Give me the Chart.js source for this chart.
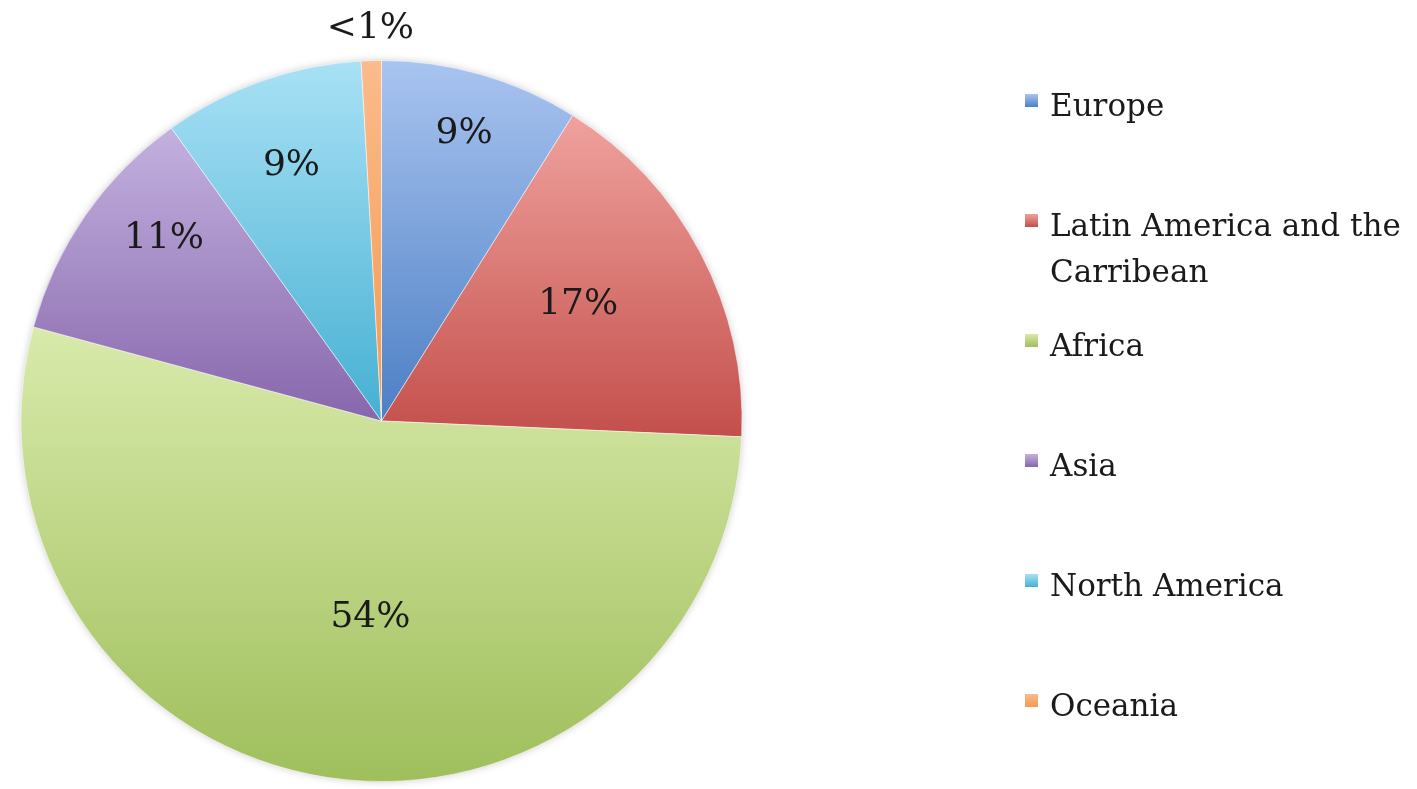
<!DOCTYPE html>
<html>
<head>
<meta charset="utf-8">
<script src="https://cdn.jsdelivr.net/npm/chart.js"></script>
<style>
  body { margin: 0; background: #fff; }
  #wrap { position: relative; width: 1417px; height: 789px; }
  #legend { position: absolute; left: 1025px; top: 0; font-family: "DejaVu Serif", serif; font-size: 31px; color: #1a1a1a; }
  .item { position: absolute; left: 0; width: 392px; line-height: 46px; white-space: nowrap; }
  .item .box { position: absolute; left: 0; top: 12px; width: 13px; height: 13px; }
  .item .txt { position: absolute; left: 25px; top: 0; }
</style>
</head>
<body>
<div id="wrap">
  <canvas id="pie" width="1417" height="789"></canvas>
  <div id="legend"></div>
</div>
<script>
// data
const regions = ["Europe", "Latin America and the Carribean", "Africa", "Asia", "North America", "Oceania"];
const legendLines = [["Europe"], ["Latin America and the", "Carribean"], ["Africa"], ["Asia"], ["North America"], ["Oceania"]];
const shares = [8.9, 16.8, 53.5, 10.9, 9.0, 0.9];

// colours, light (top of slice) -> dark (bottom of slice)
const topColors = ["#a9c4f0", "#f0a29e", "#d9eaab", "#c3b1df", "#a9e1f5", "#fbbb8c"];
const bottomColors = ["#4c7fc4", "#c34f4b", "#9fbf5c", "#8767ac", "#45b0d2", "#f5994c"];

// where each % label sits: fraction of the radius, and a nudge off the mid angle (deg)
const labelRadius = [0.83, 0.634, 0.547, 0.788, 0.75, 1.09];
const labelNudge = [0, -2.9, -5.6, 5.3, 0, 0];

function sliceGradient(ctx) {
  const chart = ctx.chart;
  const area = chart.chartArea;
  const i = ctx.dataIndex;
  if (!area || i === undefined) return bottomColors[i] || "#ccc";
  const cx = (area.left + area.right) / 2;
  const cy = (area.top + area.bottom) / 2;
  const r = Math.min(area.right - area.left, area.bottom - area.top) / 2;
  const total = shares.reduce((a, b) => a + b, 0);
  let before = 0;
  for (let k = 0; k < i; k++) before += shares[k];
  const a0 = -Math.PI / 2 + before / total * Math.PI * 2;
  const a1 = a0 + shares[i] / total * Math.PI * 2;
  let ys = [cy, cy + r * Math.sin(a0), cy + r * Math.sin(a1)];
  // top and bottom of the circle if the slice covers them
  for (let k = -1; k <= 4; k++) {
    const a = k * Math.PI / 2;
    if (a > a0 && a < a1) ys.push(cy + r * Math.sin(a));
  }
  const y0 = Math.min(...ys), y1 = Math.max(...ys);
  const g = chart.ctx.createLinearGradient(0, y0, 0, y1 + 0.01);
  g.addColorStop(0, topColors[i]);
  g.addColorStop(1, bottomColors[i]);
  return g;
}

const pieShadow = {
  id: "pieShadow",
  beforeDatasetsDraw(chart) {
    const a = chart.getDatasetMeta(0).data[0];
    if (!a) return;
    const c = chart.ctx;
    c.save();
    c.shadowColor = "rgba(0,0,0,0.25)";
    c.shadowBlur = 8;
    c.fillStyle = "#fff";
    c.beginPath();
    c.arc(a.x, a.y, a.outerRadius - 1, 0, Math.PI * 2);
    c.fill();
    c.restore();
  }
};

const pctLabels = {
  id: "pctLabels",
  afterDatasetsDraw(chart) {
    const c = chart.ctx;
    const arcs = chart.getDatasetMeta(0).data;
    c.save();
    c.font = '36px "DejaVu Serif", serif';
    c.fillStyle = "#1a1a1a";
    c.textAlign = "center";
    c.textBaseline = "middle";
    arcs.forEach((arc, i) => {
      const mid = (arc.startAngle + arc.endAngle) / 2 + labelNudge[i] * Math.PI / 180;
      const rr = arc.outerRadius * labelRadius[i];
      const v = Math.round(shares[i]);
      const txt = shares[i] < 1 ? "<1%" : v + "%";
      c.fillText(txt, arc.x + Math.cos(mid) * rr, arc.y + Math.sin(mid) * rr);
    });
    c.restore();
  }
};

new Chart(document.getElementById("pie"), {
  type: "pie",
  data: {
    labels: regions,
    datasets: [{
      data: shares,
      backgroundColor: sliceGradient,
      borderColor: "rgba(255,255,255,0.5)",
      borderWidth: 1
    }]
  },
  options: {
    responsive: false,
    animation: false,
    layout: { padding: { left: 20, top: 60, right: 674, bottom: 7 } },
    plugins: {
      legend: { display: false },
      tooltip: { enabled: false }
    }
  },
  plugins: [pieShadow, pctLabels]
});

// legend on the right, one entry every 120px
const legend = document.getElementById("legend");
legendLines.forEach((lines, i) => {
  const item = document.createElement("div");
  item.className = "item";
  item.style.top = (82 + i * 120) + "px";
  const box = document.createElement("span");
  box.className = "box";
  box.style.background = "linear-gradient(" + topColors[i] + ", " + bottomColors[i] + ")";
  const txt = document.createElement("span");
  txt.className = "txt";
  txt.innerHTML = lines.join("<br>");
  item.appendChild(box);
  item.appendChild(txt);
  legend.appendChild(item);
});
</script>
</body>
</html>
